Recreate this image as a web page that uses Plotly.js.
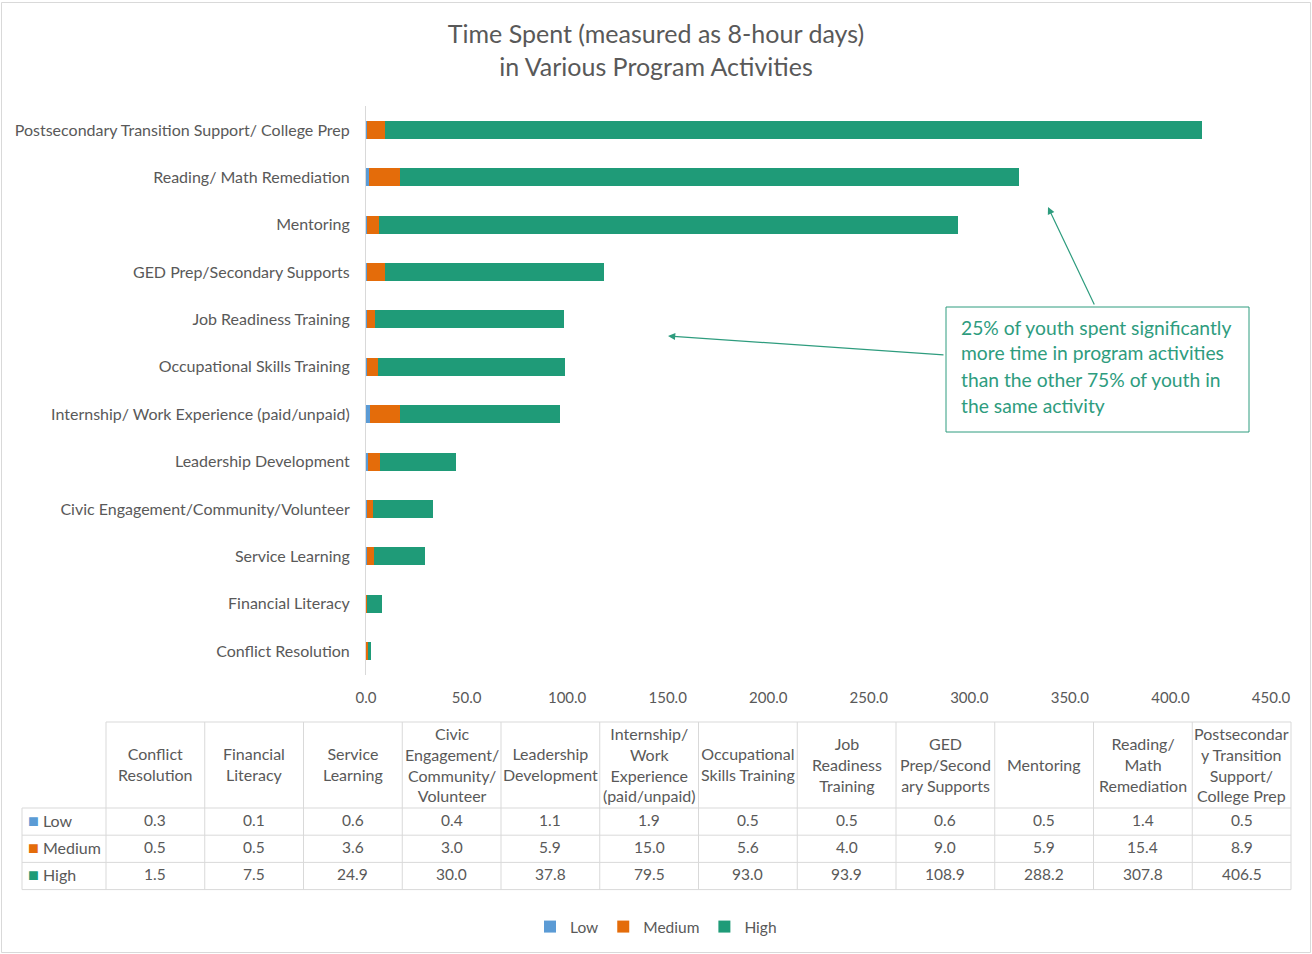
<!DOCTYPE html>
<html><head><meta charset="utf-8">
<script src="https://cdn.plot.ly/plotly-3.0.1.min.js"></script>
<style>body{margin:0;background:#fff}#chart{width:1312px;height:954px}</style>
</head><body><div id="chart"></div>
<script>
// ---- data ----
const categories = [
  'Conflict Resolution',
  'Financial Literacy',
  'Service Learning',
  'Civic Engagement/Community/Volunteer',
  'Leadership Development',
  'Internship/ Work Experience (paid/unpaid)',
  'Occupational Skills Training',
  'Job Readiness Training',
  'GED Prep/Secondary Supports',
  'Mentoring',
  'Reading/ Math Remediation',
  'Postsecondary Transition Support/ College Prep'
];
const tableHeaders = [
  'Conflict<br>Resolution',
  'Financial<br>Literacy',
  'Service<br>Learning',
  'Civic<br>Engagement/<br>Community/<br>Volunteer',
  'Leadership<br>Development',
  'Internship/<br>Work<br>Experience<br>(paid/unpaid)',
  'Occupational<br>Skills Training',
  'Job<br>Readiness<br>Training',
  'GED<br>Prep/Second<br>ary Supports',
  'Mentoring',
  'Reading/<br>Math<br>Remediation',
  'Postsecondar<br>y Transition<br>Support/<br>College Prep'
];
const low    = [0.3, 0.1, 0.6, 0.4, 1.1, 1.9, 0.5, 0.5, 0.6, 0.5, 1.4, 0.5];
const medium = [0.5, 0.5, 3.6, 3.0, 5.9, 15.0, 5.6, 4.0, 9.0, 5.9, 15.4, 8.9];
const high   = [1.5, 7.5, 24.9, 30.0, 37.8, 79.5, 93.0, 93.9, 108.9, 288.2, 307.8, 406.5];
const seriesNames = ['Low', 'Medium', 'High'];
const seriesValues = [low, medium, high];
const xTickVals = [0, 50, 100, 150, 200, 250, 300, 350, 400, 450];
const titleLines = ['Time Spent (measured as 8-hour days)', 'in Various Program Activities'];
const calloutLines = [
  '25% of youth spent significantly',
  'more time in program activities',
  'than the other 75% of youth in',
  'the same activity'
];

// ---- styles ----
const seriesColors = ['#5b9bd5', '#e46c0a', '#1f9b78'];
const textColor = '#595959';
const gridColor = '#d9d9d9';
const calloutColor = '#2e9c7e';
const FONT = 'Lato, "Open Sans", sans-serif';
const W = 1312, H = 954;
const px = x => x / W;
const py = y => 1 - y / H;

const traces = seriesNames.map((name, i) => ({
  type: 'bar', orientation: 'h', name: name,
  y: categories, x: seriesValues[i],
  marker: {color: seriesColors[i], line: {width: 0}},
  hoverinfo: 'x+y+name'
}));

const shapes = [];
const annotations = [];

// outer border
shapes.push({type: 'rect', xref: 'paper', yref: 'paper', x0: px(1.5), x1: px(1310.5), y0: py(952.5), y1: py(2.5),
  line: {color: '#d9d9d9', width: 1}});

// ---- data table (built from the arrays) ----
const tLeft = 22, tLabelRight = 106, tRight = 1291, tHeadTop = 722, tHeadBottom = 808, rowH = 27.2;
const colW = (tRight - tLabelRight) / categories.length;
const tBottom = tHeadBottom + rowH * seriesNames.length;
function hline(y, x0, x1) {
  shapes.push({type: 'line', xref: 'paper', yref: 'paper', x0: px(x0), x1: px(x1), y0: py(y), y1: py(y),
    line: {color: gridColor, width: 1}});
}
function vline(x, y0, y1) {
  shapes.push({type: 'line', xref: 'paper', yref: 'paper', x0: px(x), x1: px(x), y0: py(y0), y1: py(y1),
    line: {color: gridColor, width: 1}});
}
hline(tHeadTop, tLabelRight, tRight);
for (let r = 0; r <= seriesNames.length; r++) hline(tHeadBottom + r * rowH, tLeft, tRight);
vline(tLeft, tHeadBottom, tBottom);
for (let c = 0; c <= categories.length; c++) vline(tLabelRight + c * colW, tHeadTop, tBottom);

tableHeaders.forEach((h, c) => {
  annotations.push({xref: 'paper', yref: 'paper', x: px(tLabelRight + (c + 0.5) * colW), y: py((tHeadTop + tHeadBottom) / 2 - 1),
    text: h, showarrow: false, xanchor: 'center', yanchor: 'middle', align: 'center',
    font: {family: FONT, size: 16, color: textColor}});
});
seriesNames.forEach((name, r) => {
  const yc = tHeadBottom + (r + 0.5) * rowH - 2;
  annotations.push({xref: 'paper', yref: 'paper', x: px(tLeft + 4), y: py(yc),
    text: '<span style="color:' + seriesColors[r] + ';font-size:18px">■</span> ' + name, showarrow: false,
    xanchor: 'left', yanchor: 'middle', font: {family: FONT, size: 16, color: textColor}});
  seriesValues[r].forEach((v, c) => {
    annotations.push({xref: 'paper', yref: 'paper', x: px(tLabelRight + (c + 0.5) * colW), y: py(yc),
      text: v.toFixed(1), showarrow: false, xanchor: 'center', yanchor: 'middle',
      font: {family: FONT, size: 15.5, color: textColor}});
  });
});

// ---- callout ----
shapes.push({type: 'rect', xref: 'paper', yref: 'paper', x0: px(946), x1: px(1249), y0: py(432), y1: py(307),
  line: {color: calloutColor, width: 1}});
calloutLines.forEach((t, i) => {
  annotations.push({xref: 'paper', yref: 'paper', x: px(959), y: py(327 + i * 26), text: t, showarrow: false,
    xanchor: 'left', yanchor: 'middle', font: {family: FONT, size: 19.3, color: calloutColor}});
});
annotations.push({xref: 'paper', yref: 'paper', x: px(1048), y: py(207), ax: 47, ay: 99, text: '',
  showarrow: true, arrowhead: 2, arrowsize: 1.2, arrowwidth: 1.2, arrowcolor: calloutColor});
annotations.push({xref: 'paper', yref: 'paper', x: px(668), y: py(336), ax: 277, ay: 19, text: '',
  showarrow: true, arrowhead: 2, arrowsize: 1.2, arrowwidth: 1.2, arrowcolor: calloutColor});

const layout = {
  width: W, height: H,
  margin: {l: 0, r: 0, t: 0, b: 0},
  paper_bgcolor: '#fff', plot_bgcolor: '#fff',
  font: {family: FONT, color: textColor, size: 16},
  title: {text: titleLines.join('<br>'), x: 0.5, xanchor: 'center', y: py(43), yanchor: 'middle',
    font: {family: FONT, size: 25, color: textColor}},
  barmode: 'stack',
  bargap: 0.62,
  showlegend: true,
  legend: {orientation: 'h', x: 0.5, xanchor: 'center', y: py(927), yanchor: 'middle', traceorder: 'normal',
    font: {family: FONT, size: 15.5, color: textColor}, itemwidth: 30},
  xaxis: {domain: [px(366), px(1271)], range: [0, 450], tickvals: xTickVals, tickformat: '.1f',
    showgrid: false, zeroline: false, showline: false, ticks: '', ticklabelstandoff: 12,
    tickfont: {family: FONT, size: 15, color: textColor}, fixedrange: true},
  yaxis: {domain: [py(674.7), py(106.3)], range: [-0.5, 11.5], autorange: false, type: 'category',
    showgrid: false, zeroline: false, showline: true, linecolor: gridColor, linewidth: 1,
    ticks: '', ticklabelstandoff: 12, tickfont: {family: FONT, size: 16, color: textColor}, fixedrange: true},
  shapes: shapes,
  annotations: annotations
};

Plotly.newPlot('chart', traces, layout, {displayModeBar: false, staticPlot: false});
</script>
</body></html>
